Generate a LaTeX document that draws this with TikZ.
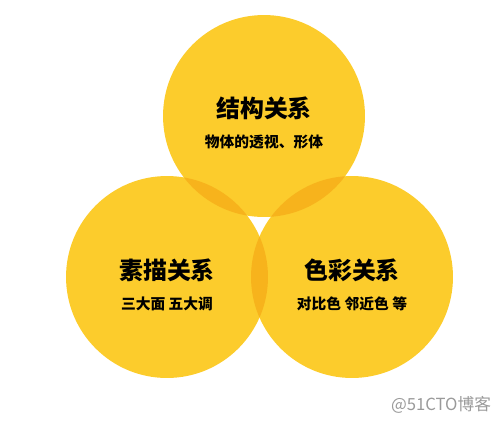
\documentclass[tikz,border=0pt]{standalone}
\usepackage{fontspec}
\newfontfamily\cjk{Noto Sans CJK SC}
\usetikzlibrary{positioning}
\definecolor{sunny}{HTML}{FCCC2C}
\definecolor{amber}{HTML}{F7B31C}
\definecolor{mark}{HTML}{9A9A9A}
\tikzset{
  x=0.02cm, y=-0.02cm, % one unit is one pixel of the picture
  ring/.style={circle, fill=sunny, minimum size=4.04cm, inner sep=0pt}, % the three big discs
  meet/.style={fill=amber}, % where two discs cover each other
  title/.style={font=\cjk\bfseries\fontsize{13.6}{15}\selectfont, inner sep=0pt},
  note/.style={font=\cjk\bfseries\fontsize{8.4}{10}\selectfont, inner sep=0pt},
  node distance=0.29cm, % gap between a title and its note
}

\begin{document}
\begin{tikzpicture}
  \useasboundingbox (0,0) rectangle (500,423);

  \node[ring] (jg) at (264,116) {};
  \node[ring] (sm) at (167,277) {};
  \node[ring] (sc) at (352,277) {};

  % the orange lenses
  \begin{scope}
    \clip (jg.center) circle (2.02cm);
    \fill[meet] (sm.center) circle (2.02cm);
    \fill[meet] (sc.center) circle (2.02cm);
  \end{scope}
  \begin{scope}
    \clip (sm.center) circle (2.02cm);
    \fill[meet] (sc.center) circle (2.02cm);
  \end{scope}
  % white gap where all three meet
  \begin{scope}
    \clip (jg.center) circle (2.02cm);
    \clip (sm.center) circle (2.02cm);
    \fill[white] (sc.center) circle (2.02cm);
  \end{scope}

  \node[title] (jgT) at ([yshift=0.16cm]jg.center) {结构关系};
  \node[note, below=of jgT] (jgN) {物体的透视、形体};

  \node[title] (smT) at ([yshift=0.14cm]sm.center) {素描关系};
  \node[note, below=of smT] (smN) {三大面 五大调};

  \node[title] (scT) at ([yshift=0.14cm]sc.center) {色彩关系};
  \node[note, below=of scT] (scN) {对比色 邻近色 等};

  \node[font=\cjk\fontsize{9.5}{11}\selectfont, text=mark, inner sep=0pt] (wm) at (441,405) {@51CTO博客};
\end{tikzpicture}
\end{document}
